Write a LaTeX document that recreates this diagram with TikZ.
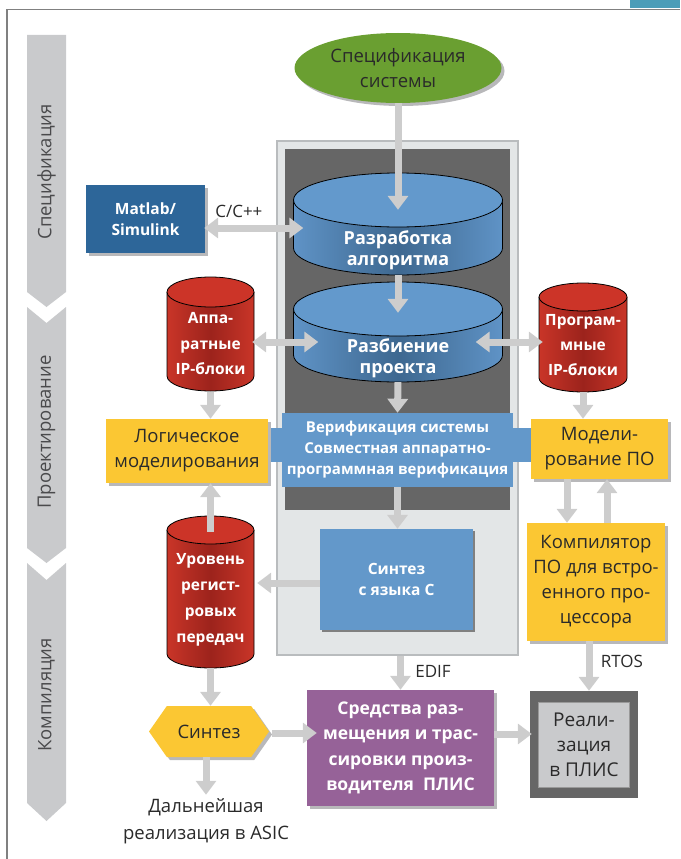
\documentclass[tikz,border=0pt]{standalone}
\usepackage{fontspec}
\setmainfont{Open Sans}
\usetikzlibrary{arrows.meta,shapes.geometric,shapes.symbols,shadows,calc,positioning}

\definecolor{ArrowGray}{HTML}{CDCDCD}
\definecolor{StageGray}{HTML}{C9CACC}
\definecolor{StageText}{HTML}{4A4A4C}
\definecolor{SpecGreen}{HTML}{6A9F31}
\definecolor{BoxYellow}{HTML}{FBC733}
\definecolor{BoxBlue}{HTML}{6398CA}
\definecolor{DeepBlue}{HTML}{2D6699}
\definecolor{BoxPurple}{HTML}{966298}
\definecolor{DrumBlue}{HTML}{6399CC}
\definecolor{DrumBlueSide}{HTML}{5F93C6}
\definecolor{DrumBlueDark}{HTML}{3E6890}
\definecolor{DrumRed}{HTML}{CC3428}
\definecolor{DrumRedSide}{HTML}{C93528}
\definecolor{DrumRedDark}{HTML}{9C231C}
\definecolor{PanelLight}{HTML}{E3E6E7}
\definecolor{PanelEdge}{HTML}{B9BCBE}
\definecolor{CoreGray}{HTML}{666666}
\definecolor{TextDark}{HTML}{2A2A2A}
\definecolor{ShadowGray}{HTML}{B8B8BA}
\definecolor{FrameTeal}{HTML}{4C9DB8}

% drum: x, y top centre, y bottom centre, rx, ry, side, middle, top
\newcommand\drum[8]{%
  \shade[left color=#6, right color=#6, middle color=#7]
    (#1-#4,#2) -- (#1-#4,#3) arc[start angle=180, end angle=0, x radius=#4, y radius=#5]
    -- (#1+#4,#2) -- cycle;
  \draw[line width=0.8pt] (#1-#4,#2) -- (#1-#4,#3)
    arc[start angle=180, end angle=0, x radius=#4, y radius=#5] -- (#1+#4,#2);
  \filldraw[fill=#8, line width=0.8pt] (#1,#2) ellipse[x radius=#4, y radius=#5];
}

\begin{document}
\begin{tikzpicture}[x=1pt, y=-1pt,
    arr/.style={draw=ArrowGray, line width=7pt, -{Triangle[width=20pt,length=14pt]}},
    darr/.style={draw=ArrowGray, line width=7pt, {Triangle[width=20pt,length=14pt]}-{Triangle[width=20pt,length=14pt]}},
    shade box/.style={drop shadow={shadow xshift=3pt, shadow yshift=-3pt, fill=ShadowGray, opacity=1}},
    darktext/.style={text=TextDark, font=\fontsize{18.5}{25}\selectfont, align=center},
    whitetext/.style={text=white, font=\fontsize{15.5}{21}\selectfont\bfseries, align=center},
    drumtext/.style={whitetext, font=\fontsize{18}{21}\selectfont\bfseries, inner sep=0pt},
    ybox/.style={darktext, fill=BoxYellow, shade box, inner sep=0pt},
    stage/.style={fill=StageGray},
    stagetext/.style={rotate=90, text=StageText, font=\fontsize{18.5}{20}\selectfont}]

  \useasboundingbox (0,0) rectangle (680,859);
  % frame
  \fill[FrameTeal] (630,0) rectangle (680,8.5);
  \draw[gray, line width=1.2pt] (7,859) -- (7,9.5) -- (680,9.5);

  % stages
  \fill[stage] (27,35) -- (66,35) -- (66,292) -- (46.5,307) -- (27,292) -- cycle;
  \fill[stage] (27,307) -- (46.5,323) -- (66,307) -- (66,548) -- (46.5,563) -- (27,548) -- cycle;
  \fill[stage] (27,563) -- (46.5,580) -- (66,563) -- (66,803) -- (46.5,821) -- (27,803) -- cycle;
  \node[stagetext] (st1) at (46.5,172) {Спецификация};
  \node[stagetext] (st2) at (46.5,432) {Проектирование};
  \node[stagetext] (st3) at (46.5,695) {Компиляция};

  % system panel
  \node[fill=PanelLight, draw=PanelEdge, line width=1.5pt, minimum width=241pt, minimum height=514pt] (panel) at (397.5,398) {};
  \node[fill=CoreGray, minimum width=225pt, minimum height=361pt, inner sep=0pt] (core) at (397.5,329.5) {};

  \node[ellipse, fill=SpecGreen, shade box, darktext, minimum width=207pt, minimum height=70pt, inner sep=0pt] (spec) at (398,68) {Спецификация\\системы};
  \node[fill=DeepBlue, shade box, whitetext, minimum width=119pt, minimum height=68pt, inner sep=0pt] (matlab) at (145.5,219) {Matlab/\\Simulink};

  % drums
  \drum{398}{200}{248}{104.5}{27}{DrumBlueSide}{DrumBlueDark}{DrumBlue}
  \drum{398}{309}{355}{104.5}{27}{DrumBlueSide}{DrumBlueDark}{DrumBlue}
  \drum{210.5}{292}{376}{43.5}{15}{DrumRedSide}{DrumRedDark}{DrumRed}
  \drum{583}{297}{378}{44}{14}{DrumRedSide}{DrumRedDark}{DrumRed}
  \drum{210.5}{530}{654}{43.5}{14}{DrumRedSide}{DrumRedDark}{DrumRed}
  \node[drumtext, minimum width=209pt, minimum height=50pt] (alg) at (398,250) {Разработка\\алгоритма};
  \node[drumtext, minimum width=209pt, minimum height=48pt] (part) at (398,358) {Разбиение\\проекта};
  \node[whitetext, font=\fontsize{15.5}{25.5}\selectfont\bfseries, minimum width=87pt, minimum height=96pt, inner sep=0pt] (hwip) at (210.5,344) {Аппа-\\ратные\\IP-блоки};
  \node[whitetext, font=\fontsize{15.5}{25}\selectfont\bfseries, minimum width=88pt, minimum height=94pt, inner sep=0pt] (swip) at (583,345) {Програм-\\мные\\IP-блоки};
  \node[whitetext, font=\fontsize{15.5}{26}\selectfont\bfseries, minimum width=87pt, minimum height=136pt, inner sep=0pt] (rtl) at (210.5,600) {Уровень\\регист-\\ровых\\передач};

  % blue links of the verification
  \fill[BoxBlue] (266,428) rectangle (285,462);
  \fill[BoxBlue] (510,428) rectangle (532,462);
  \node[fill=BoxBlue, whitetext, font=\fontsize{15}{21}\selectfont\bfseries, minimum width=231pt, minimum height=74pt, inner sep=0pt] (verif) at (397.5,450) {Верификация системы\\Совместная аппаратно-\\программная верификация};
  \node[fill=BoxBlue, whitetext, drop shadow={shadow xshift=2pt, shadow yshift=-2pt, fill=gray, opacity=1}, minimum width=153pt, minimum height=101pt, inner sep=0pt] (sync) at (396.5,579.5) {Синтез\\с языка С};

  % yellow boxes
  \node[ybox, minimum width=162pt, minimum height=64pt] (logic) at (187,451) {Логическое\\моделирования};
  \node[ybox, minimum width=137pt, minimum height=60pt] (swmod) at (599.5,449) {Модели-\\рование ПО};
  \node[ybox, minimum width=138pt, minimum height=118pt] (comp) at (596,582) {Компилятор\\ПО для встро-\\енного про-\\цессора};
  \node[ybox, shape=signal, signal to=east and west, signal pointer angle=110, minimum width=120pt, minimum height=51pt] (synth) at (209,731.5) {Синтез};
  \node[darktext, font=\fontsize{18.5}{27}\selectfont] (asic) at (206,821) {Дальнейшая\\реализация в ASIC};

  % back end
  \node[fill=BoxPurple, shade box, whitetext, font=\fontsize{17.5}{25.5}\selectfont\bfseries, minimum width=187pt, minimum height=116pt, inner sep=0pt] (pr) at (400.5,748) {Средства раз-\\мещения и трас-\\сировки произ-\\водителя~~ПЛИС};
  \node[fill=CoreGray, minimum width=108pt, minimum height=107pt, inner sep=0pt] (fpga) at (584,744.5) {};
  \node[fill=StageGray, draw=gray!80, line width=1pt, darktext, font=\fontsize{19}{25}\selectfont, minimum width=91pt, minimum height=85pt, inner sep=0pt] (fpgain) at (fpga) {Реали-\\зация\\в ПЛИС};

  % connectors
  \draw[arr] (spec.south) -- ($(alg.north)+(0,-15)$);
  \draw[arr] (alg.south) -- ($(part.north)+(0,-21)$);
  \draw[arr] (part.south) -- (verif.north);
  \draw[arr] (verif.south) -- (verif.south |- sync.north);
  \draw[darr] ($(matlab.east)+(-1,9)$) -- ($(alg.west |- matlab.east)+(10,9)$)
    node[pos=0.35, above=4pt, darktext, font=\fontsize{17}{20}\selectfont] (cpp) {C/C++};
  \draw[darr] ($(hwip.east)+(-2,-2)$) -- ($(part.west |- hwip.east)+(25,-2)$);
  \draw[darr] ($(part.east)+(-27,-16)$) -- ($(swip.west |- part.east)+(4,-16)$);
  \draw[arr] (hwip.south) -- (logic.north -| hwip.south);
  \draw[arr] (rtl.north) -- (logic.south -| rtl.north);
  \draw[arr] (sync.west |- rtl.east) ++(0,-17) coordinate (syncout) -- ($(rtl.east)+(3,-17)$);
  \draw[arr] (swip.south) -- (swmod.north -| swip.south);
  \draw[arr] ($(swmod.south)+(-32.5,0)$) -- ($(comp.north)+(-29,0)$);
  \draw[arr] ($(comp.north)+(11,0)$) -- ($(swmod.south)+(7.5,0)$);
  \draw[arr] (rtl.south) -- (synth.north -| rtl.south);
  \draw[arr] (synth.south -| asic.north) -- (asic.north);
  \draw[arr] ($(synth.east)+(3,1.5)$) -- ($(pr.west)+(10,-15)$);
  \draw[arr] (panel.south -| pr.north) -- (pr.north)
    node[pos=0.45, right=8pt, darktext, font=\fontsize{17}{20}\selectfont] (edif) {EDIF};
  \draw[arr] ($(comp.south)+(-7,0)$) -- ($(fpga.north)+(5,0)$)
    node[pos=0.4, right=5pt, darktext, font=\fontsize{17}{20}\selectfont] (rtos) {RTOS};
  \draw[arr] ($(pr.east)+(0,-14)$) -- ($(fpga.west |- pr.east)+(2,-14)$);
\end{tikzpicture}
\end{document}
